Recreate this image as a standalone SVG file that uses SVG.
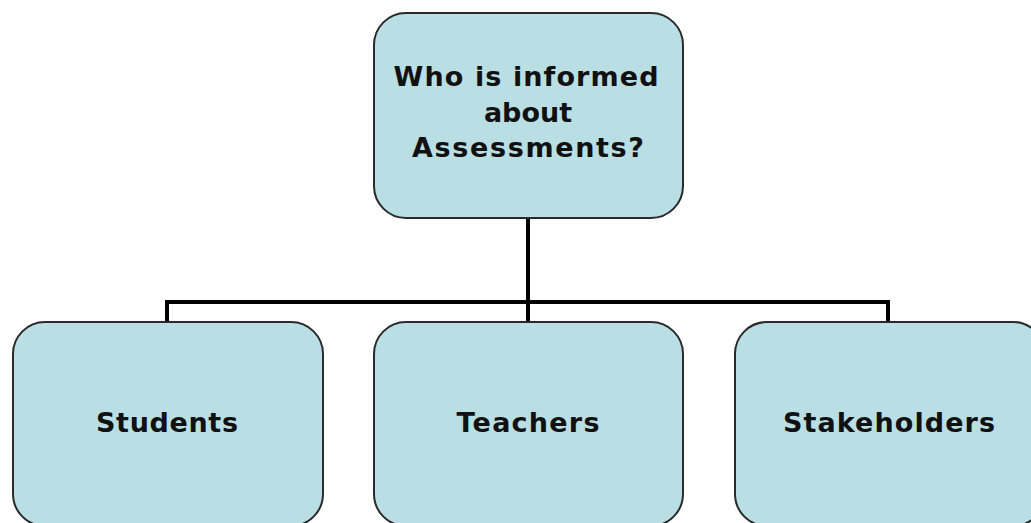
<svg xmlns="http://www.w3.org/2000/svg" width="1031" height="523" viewBox="0 0 1031 523">
<style>
.box{fill:#b9dfe5;stroke:#2a2a2a;stroke-width:2}
.lbl{font-family:"DejaVu Sans","Liberation Sans",sans-serif;font-weight:bold;font-size:27px;fill:#111;text-anchor:middle}
.conn{fill:none;stroke:#000;stroke-width:4}
</style>
<rect width="1031" height="523" fill="#fff"/>
<g id="connectors">
<path class="conn" d="M528 218 V302 M167 302 H888 M167 300 V322 M528 302 V322 M888 300 V322"/>
</g>
<g id="root">
<rect class="box" x="374" y="13" width="309" height="205" rx="32"/>
<text class="lbl" x="526" y="86" textLength="265" lengthAdjust="spacing">Who is informed</text>
<text class="lbl" x="528" y="122">about</text>
<text class="lbl" x="528" y="157" textLength="232" lengthAdjust="spacing">Assessments?</text>
</g>
<g id="students">
<rect class="box" x="13" y="322" width="310" height="204" rx="32"/>
<text class="lbl" x="167" y="432" textLength="142" lengthAdjust="spacing">Students</text>
</g>
<g id="teachers">
<rect class="box" x="374" y="322" width="309" height="204" rx="32"/>
<text class="lbl" x="528" y="432" textLength="143" lengthAdjust="spacing">Teachers</text>
</g>
<g id="stakeholders">
<rect class="box" x="735" y="322" width="310" height="204" rx="32"/>
<text class="lbl" x="889" y="432" textLength="212" lengthAdjust="spacing">Stakeholders</text>
</g>
</svg>
